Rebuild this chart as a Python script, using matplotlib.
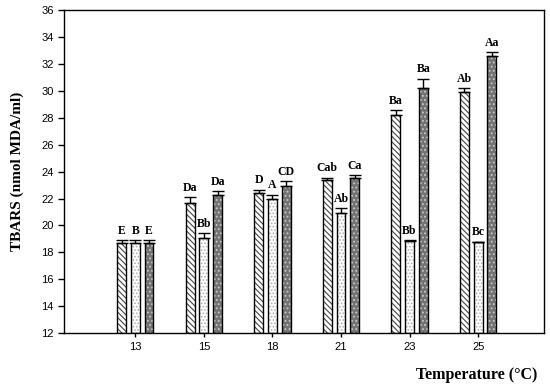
import numpy as np
import matplotlib.pyplot as plt

temps = ["13", "15", "18", "21", "23", "25"]

s1 = [18.7, 21.7, 22.4, 23.35, 28.2, 29.9]
s1_err = [0.2, 0.4, 0.25, 0.2, 0.35, 0.3]
s1_lab = ["E", "Da", "D", "Cab", "Ba", "Ab"]

s2 = [18.7, 19.1, 22.0, 20.95, 18.85, 18.75]
s2_err = [0.2, 0.35, 0.3, 0.35, 0.08, 0.05]
s2_lab = ["B", "Bb", "A", "Ab", "Bb", "Bc"]

s3 = [18.7, 22.25, 22.95, 23.55, 30.25, 32.58]
s3_err = [0.2, 0.3, 0.35, 0.2, 0.65, 0.28]
s3_lab = ["E", "Da", "CD", "Ca", "Ba", "Aa"]

plt.rcParams['hatch.linewidth'] = 0.8

fig = plt.figure(figsize=(5.5, 3.91), dpi=100)
ax = fig.add_axes([0.1164, 0.148, 0.8726, 0.826])

x = np.arange(len(temps))
w = 0.13
series = [
    (s1, s1_err, s1_lab, -0.2, "white", "#444444", "\\\\\\\\\\\\"),
    (s2, s2_err, s2_lab, 0.0, "white", "#b0b0b0", "....."),
    (s3, s3_err, s3_lab, 0.2, "#737373", "#c8c8c8", "...."),
]

for vals, err, labs, off, fc, hc, hatch in series:
    xs = x + off
    heights = np.array(vals) - 12
    ax.bar(xs, heights, w, bottom=12, color=fc, edgecolor=hc, hatch=hatch, linewidth=0)
    ax.bar(xs, heights, w, bottom=12, fill=False, edgecolor="black", linewidth=1.0)
    ax.errorbar(xs, vals, yerr=[np.zeros(len(vals)), err], fmt="none",
                ecolor="black", elinewidth=1.0, capsize=4, capthick=1.0)
    for xi, v, e, lab in zip(xs, vals, err, labs):
        ax.text(xi, v + e + 0.25, lab, ha="center", va="bottom",
                family="Liberation Serif", fontweight="bold", fontsize=8.5)

ax.set_xlim(-1.04, 5.96)
ax.set_ylim(12, 36)
ax.set_yticks(np.arange(12, 37, 2))
ax.set_xticks(x)
ax.set_xticklabels(temps)
ax.tick_params(direction="out", length=4, width=1, labelsize=8,
               labelfontfamily="Liberation Sans")
ax.tick_params(axis="x", length=3)
for sp in ax.spines.values():
    sp.set_linewidth(1.0)

ax.set_ylabel("TBARS (nmol MDA/ml)", family="Liberation Serif",
              fontweight="bold", fontsize=11, labelpad=12)
fig.text(0.977, 0.02, "Temperature (\u00b0C)", ha="right", va="bottom",
         family="Liberation Serif", fontweight="bold", fontsize=11.5)

fig.savefig("out.png", dpi=100)
